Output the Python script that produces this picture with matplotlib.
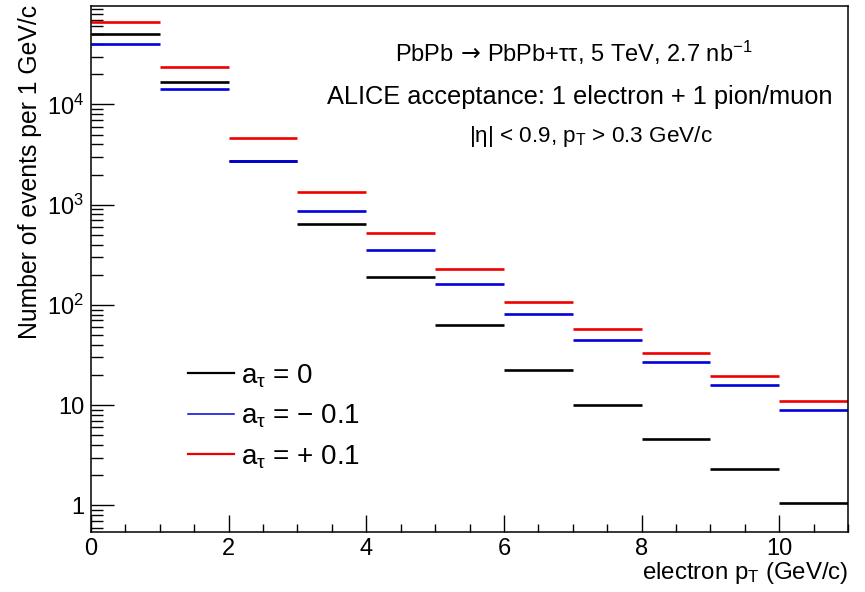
import numpy as np
import matplotlib
matplotlib.use("Agg")
import matplotlib.pyplot as plt
from matplotlib.ticker import FixedLocator, MultipleLocator, LogLocator, NullFormatter

plt.rcParams['font.family'] = ['Liberation Sans', 'DejaVu Sans']
plt.rcParams['mathtext.fontset'] = 'custom'
plt.rcParams['mathtext.rm'] = 'Liberation Sans'
plt.rcParams['mathtext.it'] = 'Liberation Sans'
plt.rcParams['mathtext.bf'] = 'Liberation Sans:bold'
plt.rcParams['mathtext.sf'] = 'DejaVu Sans'

# ---- data ----
bin_edges = [0, 1, 2, 3, 4, 5, 6, 7, 8, 9, 10, 11]
a_zero = [50500, 16900, 2740, 643, 192, 63.8, 22.2, 10.05, 4.64, 2.32, 1.06]
a_minus = [39800, 14300, 2740, 871, 354, 161, 80.9, 44.9, 26.7, 16.0, 9.0]
a_plus = [66500, 23700, 4580, 1345, 519, 227, 108, 58.2, 33.3, 19.7, 10.9]
series_labels = [r'a$_{\tau}$ = 0', r'a$_{\tau}$ = − 0.1', r'a$_{\tau}$ = + 0.1']
series_colors = ['#000000', '#0000dd', '#ee0000']
ytick_values = [1, 10, 100, 1000, 10000]
ytick_labels = ['1', '10', r'10$^{2}$', r'10$^{3}$', r'10$^{4}$']
xtick_values = [0, 2, 4, 6, 8, 10]
info_lines = [r'PbPb $\!\mathsf{\rightarrow}\!$ PbPb+ττ, 5 TeV, 2.7 nb$^{\mathregular{-1}}$',
              'ALICE acceptance: 1 electron + 1 pion/muon',
              r'|η| < 0.9, p$_{\mathregular{T}}$ > 0.3 GeV/c']

W, H = 865, 592
fig = plt.figure(figsize=(W / 100, H / 100), dpi=100)
left, right, top, bottom = 91, 848, 6, 532
ax = fig.add_axes([left / W, 1 - bottom / H, (right - left) / W, (bottom - top) / H])

edges = np.array(bin_edges, dtype=float)
handles = []
for vals, col, lab, llw in zip([a_zero, a_minus, a_plus], series_colors, series_labels,
                               [1.6, 1.1, 1.6]):
    ax.hlines(vals, edges[:-1], edges[1:], colors=col, lw=1.9)
    h, = ax.plot([], [], color=col, lw=llw, label=lab)
    handles.append(h)

ax.set_yscale('log')
ax.set_xlim(0, 11)
ax.set_ylim(0.543, 9.6e4)

ax.yaxis.set_major_locator(FixedLocator(ytick_values))
ax.set_yticklabels(ytick_labels)
ax.yaxis.set_minor_locator(LogLocator(base=10, subs=np.arange(2, 10), numticks=20))
ax.yaxis.set_minor_formatter(NullFormatter())
ax.xaxis.set_major_locator(FixedLocator(xtick_values))
ax.set_xticklabels([str(v) for v in xtick_values])
ax.xaxis.set_minor_locator(MultipleLocator(0.5))

ax.tick_params(axis='both', which='both', direction='in', top=False, right=False,
               width=1.0, labelsize=17, colors='black')
ax.tick_params(axis='y', which='major', length=16.5, pad=5)
ax.tick_params(axis='y', which='minor', length=8.5)
ax.tick_params(axis='x', which='major', length=12, pad=4)
ax.tick_params(axis='x', which='minor', length=6)
for s in ax.spines.values():
    s.set_linewidth(1.1)

fig.text(30 / W, 1 - 5 / H, 'Number of events per 1 GeV/c', rotation=90,
         ha='center', va='top', fontsize=17.8)
fig.text(848 / W, 1 - 579 / H, r'electron p$_{\mathregular{T}}$ (GeV/c)',
         ha='right', va='baseline', fontsize=17.3)

centers = [574, 580, 591]
baselines = [62, 104, 142]
sizes = [17, 18.3, 16.2]
for txt, cx, by, fs in zip(info_lines, centers, baselines, sizes):
    fig.text(cx / W, 1 - by / H, txt, ha='center', va='baseline', fontsize=fs)

leg = ax.legend(handles=handles, loc='upper left',
                bbox_to_anchor=(188 / W, 1 - 362 / H), bbox_transform=fig.transFigure,
                frameon=False, fontsize=20, handlelength=1.65, handletextpad=0.25,
                labelspacing=0.47, borderpad=0, borderaxespad=0)

fig.savefig('out.png', dpi=100)
